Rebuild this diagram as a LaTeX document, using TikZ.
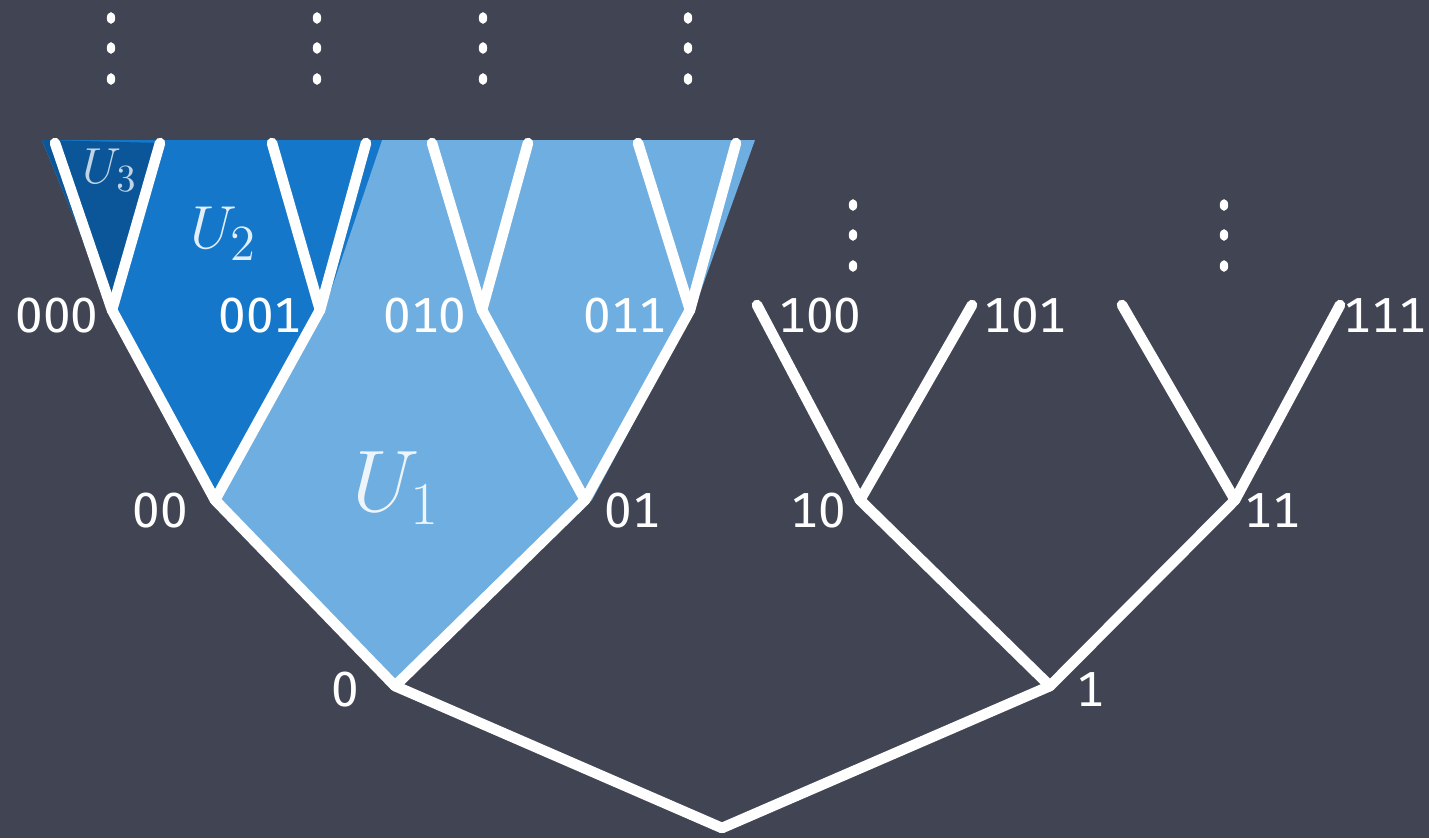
\documentclass[tikz,border=0pt]{standalone}
\usepackage{fontspec}
\newfontfamily\chalkfont[Numbers=Monospaced]{Fira Sans}
\usetikzlibrary{positioning}
\definecolor{board}{RGB}{65,69,83}
\definecolor{uone}{RGB}{111,174,224}
\definecolor{utwo}{RGB}{21,119,201}
\definecolor{uthree}{RGB}{10,86,152}

\begin{document}
\begin{tikzpicture}[x=0.01cm,y=-0.01cm,
  chalk/.style={white,line width=3pt,line cap=round,line join=round},
  bits/.style={text=white,font=\chalkfont\fontsize{14}{16}\selectfont,inner sep=0pt},
  uset/.style={text=white,opacity=.88,inner sep=0pt},
  dot/.style={white,x radius=0.042cm,y radius=0.058cm}]
\fill[board] (0,0) rectangle (1429,838);

% tree points
\coordinate (r) at (722,828);
\coordinate (n0) at (395,686);   \coordinate (n1) at (1050,686);
\coordinate (n00) at (215,500);  \coordinate (n01) at (585,500);
\coordinate (n10) at (860,500);  \coordinate (n11) at (1235,500);
\coordinate (n000) at (112,310); \coordinate (n001) at (320,310);
\coordinate (n010) at (482,310); \coordinate (n011) at (690,310);
\coordinate (n100) at (757,305); \coordinate (n101) at (972,305);
\coordinate (n110) at (1122,305); \coordinate (n111) at (1340,305);
\coordinate (n0000) at (55,143);  \coordinate (n0001) at (160,143);
\coordinate (n0010) at (272,143); \coordinate (n0011) at (366,143);
\coordinate (n0100) at (432,143); \coordinate (n0101) at (528,143);
\coordinate (n0110) at (638,143); \coordinate (n0111) at (736,143);

% open sets
\fill[uone] (42,140) -- (755,140) -- (694,310) -- (592,500) -- (n0) -- (n00) -- (n000) -- cycle;
\fill[utwo] (42,140) -- (382,140) -- (326,305) -- (n00) -- (n000) -- cycle;
\fill[uthree] (42,140) -- (n0001) -- (n000) -- cycle;

% branches
\foreach \a/\b in {r/n0,r/n1,n0/n00,n0/n01,n1/n10,n1/n11,
  n00/n000,n00/n001,n01/n010,n01/n011,n10/n100,n10/n101,n11/n110,n11/n111,
  n000/n0000,n000/n0001,n001/n0010,n001/n0011,n010/n0100,n010/n0101,n011/n0110,n011/n0111}
  \draw[chalk] (\a) -- (\b);

% labels
\node[bits] (l0) at (345,690) {0};
\node[bits] (l1) at (1090,690) {1};
\node[bits] (l00) at (160,511) {00};
\node[bits] (l01) at (632,511) {01};
\node[bits] (l10) at (818,511) {10};
\node[bits] (l11) at (1272,511) {11};
\node[bits] (l000) at (57,316) {000};
\node[bits] (l001) at (260,316) {001};
\node[bits] (l010) at (425,316) {010};
\node[bits] (l011) at (625,316) {011};
\node[bits] (l100) at (820,316) {100};
\node[bits] (l101) at (1025,316) {101};
\node[bits] (l111) at (1385,316) {111};

\node[uset,font=\fontsize{27}{29}\selectfont] (u1) at (396,488) {$U_1$};
\node[uset,font=\fontsize{19}{21}\selectfont] (u2) at (224,234) {$U_2$};
\node[uset,font=\fontsize{15}{17}\selectfont,opacity=.75] (u3) at (110,170) {$U_3$};

% dots
\foreach \x in {111,317,483,688}
  \foreach \y in {18,48,79}
    \fill[dot] (\x,\y) ellipse [];
\foreach \x in {853,1224}
  \foreach \y in {205,235,266}
    \fill[dot] (\x,\y) ellipse [];
\end{tikzpicture}
\end{document}
